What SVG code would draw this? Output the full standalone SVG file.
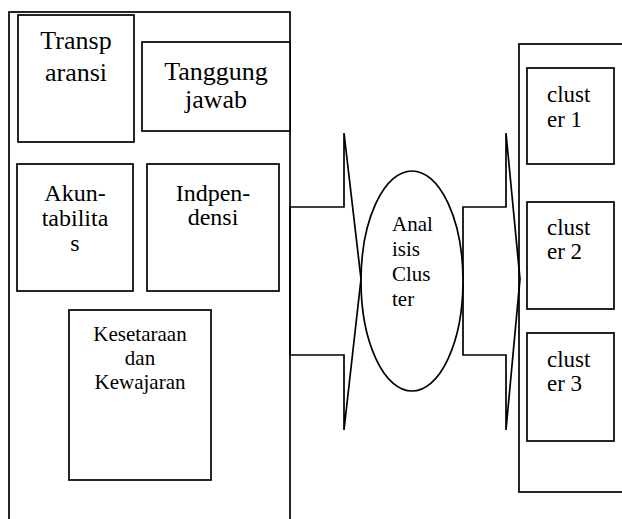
<svg xmlns="http://www.w3.org/2000/svg" width="622" height="519" viewBox="0 0 622 519">
<style>
.b{fill:#fff;stroke:#000;stroke-width:1.7}
.o{fill:none;stroke:#000;stroke-width:1.7}
.t{font-family:"Liberation Serif","Times New Roman",serif;fill:#000}
.c{text-anchor:middle}
</style>
<rect width="622" height="519" fill="#fff"/>
<g id="left-panel">
<rect class="o" x="9" y="12" width="281" height="530"/>
</g>
<g id="right-panel">
<rect class="o" x="519" y="44" width="130" height="448"/>
</g>
<g id="connectors">
<polygon class="o" points="290,207 344,207 344,133 361,279 344,430 344,355 290,355"/>
<polygon class="o" points="463,207 506,207 506,133 520,279 506,430 506,355 463,355"/>
</g>
<g id="transparansi">
<rect class="b" x="18" y="15" width="116" height="127"/>
<text class="t c" font-size="26" x="76" y="49">Transp</text>
<text class="t c" font-size="26" x="76" y="81">aransi</text>
</g>
<g id="tanggung-jawab">
<rect class="b" x="142" y="42" width="148" height="89"/>
<text class="t c" font-size="26" x="216" y="80">Tanggung</text>
<text class="t c" font-size="26" x="216" y="108">jawab</text>
</g>
<g id="akuntabilitas">
<rect class="b" x="17" y="164" width="116" height="127"/>
<text class="t c" font-size="24" x="75" y="201">Akun-</text>
<text class="t c" font-size="24" x="75" y="226">tabilita</text>
<text class="t c" font-size="24" x="75" y="251">s</text>
</g>
<g id="independensi">
<rect class="b" x="147" y="164" width="132" height="127"/>
<text class="t c" font-size="24" x="213" y="201">Indpen-</text>
<text class="t c" font-size="24" x="213" y="225">densi</text>
</g>
<g id="kesetaraan">
<rect class="b" x="69" y="310" width="142" height="170"/>
<text class="t c" font-size="21" x="140" y="341">Kesetaraan</text>
<text class="t c" font-size="21" x="140" y="365">dan</text>
<text class="t c" font-size="21" x="140" y="389">Kewajaran</text>
</g>
<g id="analisis-cluster">
<ellipse class="b" cx="412" cy="281" rx="51" ry="110"/>
<text class="t" font-size="21" x="392" y="231">Anal</text>
<text class="t" font-size="21" x="392" y="256">isis</text>
<text class="t" font-size="21" x="392" y="281">Clus</text>
<text class="t" font-size="21" x="392" y="306">ter</text>
</g>
<g id="cluster1">
<rect class="b" x="527" y="68" width="87" height="96"/>
<text class="t" font-size="23" x="547" y="102">clust</text>
<text class="t" font-size="23" x="547" y="127">er 1</text>
</g>
<g id="cluster2">
<rect class="b" x="527" y="202" width="87" height="107"/>
<text class="t" font-size="23" x="547" y="235">clust</text>
<text class="t" font-size="23" x="547" y="259">er 2</text>
</g>
<g id="cluster3">
<rect class="b" x="527" y="333" width="87" height="108"/>
<text class="t" font-size="23" x="547" y="367">clust</text>
<text class="t" font-size="23" x="547" y="391">er 3</text>
</g>
</svg>
